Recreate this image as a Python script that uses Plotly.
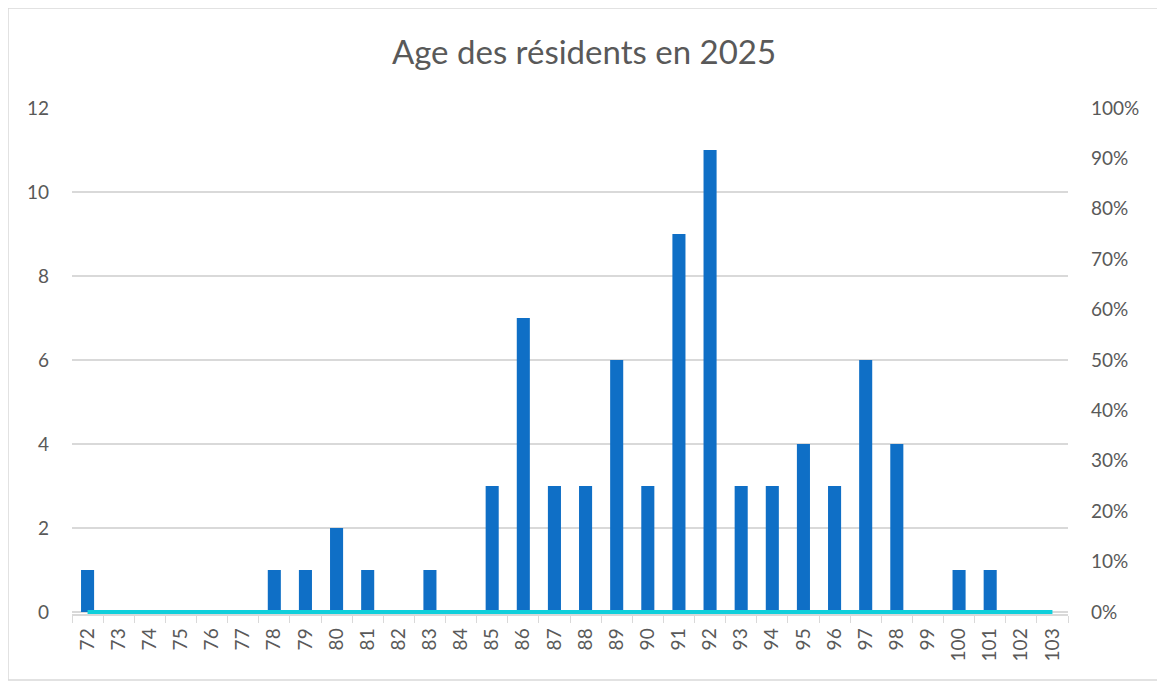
import plotly.graph_objects as go

ages = [str(a) for a in range(72, 104)]
counts = [1, 0, 0, 0, 0, 0, 1, 1, 2, 1, 0, 1, 0, 3, 7, 3, 3, 6, 3, 9, 11,
          3, 3, 4, 3, 6, 4, 0, 1, 1, 0, 0]
line_pct = [0] * len(ages)
title_text = "Age des résidents en 2025"
left_ticks = [0, 2, 4, 6, 8, 10, 12]
right_ticks = [0, 0.1, 0.2, 0.3, 0.4, 0.5, 0.6, 0.7, 0.8, 0.9, 1.0]

FONT = "Lato, 'Open Sans', sans-serif"
GRAY = "#595959"
GRID = "#d9d9d9"

# page is offset by the 8px body margin; coordinates below are in figure px
W, H = 1165, 682
plot_left, plot_right, plot_top, zero_y = 64, 1060, 100, 604
extra = 2  # px below zero so the thick zero line is not clipped
L, R, T = plot_left, W - plot_right, plot_top
B = H - zero_y - extra
pw, ph = W - L - R, H - T - B
unit = (zero_y - plot_top) / 12
ymin = -extra / unit

def px_x(p):
    return (p - L) / pw

def px_y(p):
    return (H - B - p) / ph

fig = go.Figure()
fig.add_trace(go.Bar(x=ages, y=counts, marker=dict(color="#0F6FC6", line_width=0),
                     yaxis="y", showlegend=False))
fig.add_trace(go.Scatter(x=ages, y=line_pct, mode="lines",
                         line=dict(color="#10CFDB", width=4),
                         yaxis="y2", showlegend=False))

fig.update_layout(
    width=W, height=H,
    margin=dict(l=L, r=R, t=T, b=B, pad=0),
    paper_bgcolor="white", plot_bgcolor="white",
    font=dict(family=FONT, color=GRAY, size=19),
    title=dict(text=title_text, x=576 / W, xanchor="center", xref="container",
               y=1 - 44 / H, yanchor="middle",
               font=dict(size=33, color=GRAY, family=FONT)),
    bargap=0.58,
    xaxis=dict(type="category", showgrid=False, showline=True,
               linecolor=GRID, linewidth=1.5, ticks="outside",
               tickson="boundaries", ticklen=7, tickcolor=GRID,
               tickangle=-90, ticklabelstandoff=5,
               tickfont=dict(size=19, color=GRAY)),
    yaxis=dict(range=[ymin, 12], tickvals=left_ticks, showgrid=True,
               gridcolor=GRID, gridwidth=1.5, zeroline=False,
               showline=False, ticklabelstandoff=22,
               tickfont=dict(size=19, color=GRAY)),
    yaxis2=dict(range=[ymin / 12, 1], tickvals=right_ticks, tickformat=".0%",
                overlaying="y", side="right", showgrid=False, zeroline=False,
                showline=False, ticklabelstandoff=22,
                tickfont=dict(size=19, color=GRAY)),
    shapes=[dict(type="rect", xref="paper", yref="paper",
                 x0=px_x(0), x1=px_x(1150), y0=px_y(672), y1=px_y(0),
                 line=dict(color=GRID, width=1.5), layer="below")],
)

fig.write_html("out.html")
